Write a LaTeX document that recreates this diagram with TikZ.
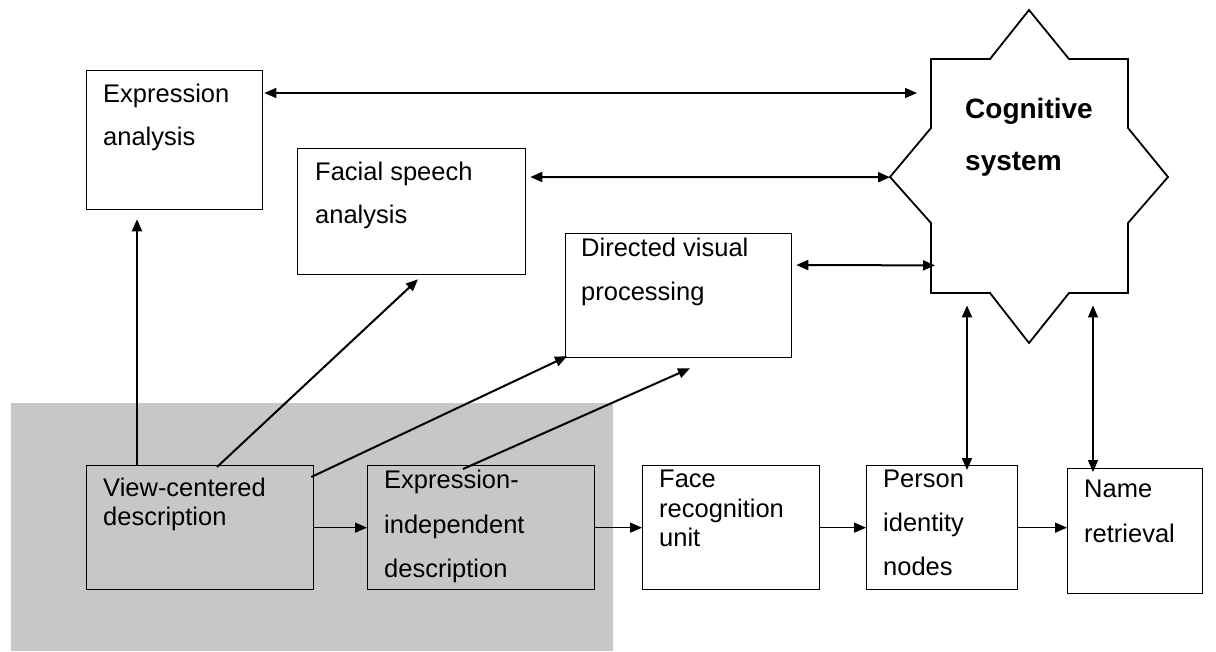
\documentclass[tikz,border=0pt]{standalone}
\usepackage{fontspec}
\setmainfont{Liberation Sans}
\usetikzlibrary{arrows.meta,calc}
\definecolor{panelgray}{rgb}{0.78,0.78,0.78}

\tikzset{
  stage/.style={draw, line width=1.3pt, anchor=north west, inner sep=0pt},
  caption/.style={anchor=north west, inner sep=0pt, align=left},
  link/.style={line width=1.3pt, -{Triangle[length=12pt,width=10pt]}},
  heavylink/.style={link, line width=2pt},
  twoway/.style={line width=1.3pt, {Triangle[length=12pt,width=10pt]}-{Triangle[length=12pt,width=10pt]}},
  heavytwoway/.style={twoway, line width=2pt}
}
\newcommand{\stagefont}[1]{\fontsize{25.5}{#1}\selectfont}

\begin{document}
\begin{tikzpicture}[x=1pt, y=-1pt]
    \useasboundingbox (0,0) rectangle (1216,651);
    \fill[panelgray] (11,403) rectangle (613,651);

    % boxes
    \node[stage, minimum width=176pt, minimum height=139pt] (expr) at (86,70) {};
    \node[stage, minimum width=228pt, minimum height=126pt] (facial) at (297,148) {};
    \node[stage, minimum width=226pt, minimum height=124pt] (directed) at (565,233) {};
    \node[stage, fill=panelgray, minimum width=227pt, minimum height=124pt] (view) at (86,465) {};
    \node[stage, fill=panelgray, minimum width=227pt, minimum height=124pt] (indep) at (367,465) {};
    \node[stage, fill=white, minimum width=177pt, minimum height=124pt] (face) at (642,465) {};
    \node[stage, fill=white, minimum width=151pt, minimum height=124pt] (person) at (866,465) {};
    \node[stage, fill=white, minimum width=135pt, minimum height=125pt] (name) at (1067,468) {};

    % cognitive system
    \node[inner sep=0pt, minimum width=197pt, minimum height=234pt, anchor=north west] (cogsq) at (931,59) {};
    \draw[line width=1.8pt] (931,59) -- (990,59) -- (1029,10) -- (1069,59) -- (1128,59) -- (1128,128)
      -- (1168,177) -- (1128,223) -- (1128,293) -- (1069,293) -- (1029,343) -- (990,293)
      -- (931,293) -- (931,223) -- (890,177) -- (931,128) -- cycle;

    % labels
    \node[caption, font={\stagefont{43}}] (exprtxt) at (103,84) {Expression\\analysis};
    \node[caption, font={\stagefont{43}}] (facialtxt) at (315,162) {Facial speech\\analysis};
    \node[caption, font={\stagefont{44}}] (directedtxt) at (581,238) {Directed visual\\processing};
    \node[caption, font={\stagefont{29}}] (viewtxt) at (103,478) {View-centered\\description};
    \node[caption, font={\stagefont{44.5}}] (indeptxt) at (384,470) {Expression-\\independent\\description};
    \node[caption, font={\stagefont{29.5}}] (facetxt) at (659,470) {Face\\recognition\\unit};
    \node[caption, font={\stagefont{44}}] (persontxt) at (883,470) {Person\\identity\\nodes};
    \node[caption, font={\stagefont{45}}] (nametxt) at (1084,480) {Name\\retrieval};
    \node[caption, font={\fontsize{28}{52}\selectfont\bfseries}] (cogtxt) at (965,98) {Cognitive\\system};

    % arrows
    \draw[twoway] ($(expr.north east)+(1,23)$) -- ($(cogsq.north west)+(-14,34)$);
    \draw[heavytwoway] ($(facial.north east)+(4,29)$) -- ($(cogsq.west)+(-41,1)$);
    \draw[heavytwoway] ($(directed.north east)+(4,32)$) -- ($(cogsq.south west)+(4,-28)$);
    \draw[heavylink] ($(view.north west)+(51,0)$) -- ($(expr.south west)+(51,9)$);
    \draw[heavylink] ($(view.north west)+(131,2)$) -- ($(facial.south west)+(121,4)$);
    \draw[heavylink] ($(view.north east)+(-3,12)$) -- ($(directed.south west)+(2,-2)$);
    \draw[heavylink] ($(indep.north west)+(96,4)$) -- ($(directed.south west)+(125,10)$);
    \foreach \a/\b in {view/indep, indep/face, face/person, person/name}{
      \draw[link] (\a.east) -- (\a.east -| \b.west);
    }
    \draw[heavytwoway] ($(cogsq.south west)+(36,12)$) -- ($(person.north west)+(101,5)$);
    \draw[twoway] ($(cogsq.south west)+(162,12)$) -- ($(name.north west)+(26,4)$);
\end{tikzpicture}
\end{document}
